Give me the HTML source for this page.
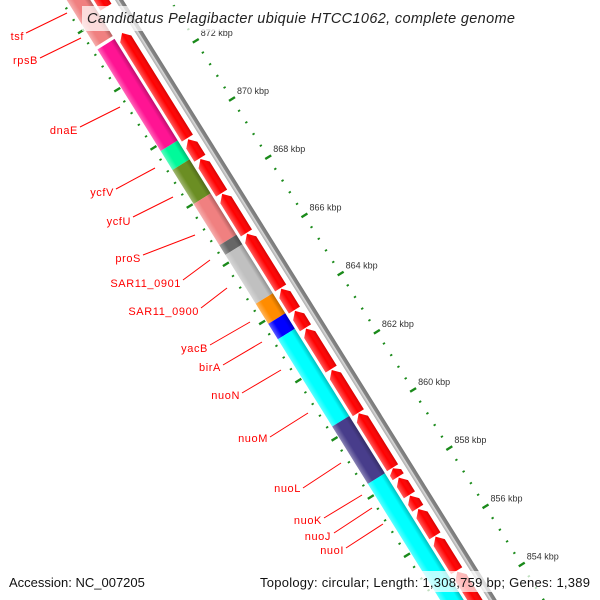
<!DOCTYPE html>
<html><head><meta charset="utf-8"><style>
html,body{margin:0;padding:0;background:#fff;overflow:hidden;}
svg{display:block;font-family:"Liberation Sans","DejaVu Sans",sans-serif;}
</style></head><body>
<svg id="map" width="600" height="600" viewBox="0 0 600 600" xmlns="http://www.w3.org/2000/svg">
<defs>
<linearGradient id="shadeBand" gradientUnits="userSpaceOnUse" x1="0" y1="68" x2="0" y2="88">
<stop offset="0" stop-color="#000" stop-opacity="0.25"/><stop offset="0.25" stop-color="#000" stop-opacity="0"/><stop offset="0.7" stop-color="#fff" stop-opacity="0"/><stop offset="1" stop-color="#fff" stop-opacity="0.35"/>
</linearGradient>
<linearGradient id="shadeArrow" gradientUnits="userSpaceOnUse" x1="0" y1="52" x2="0" y2="65">
<stop offset="0" stop-color="#000" stop-opacity="0.15"/><stop offset="0.5" stop-color="#fff" stop-opacity="0"/><stop offset="1" stop-color="#fff" stop-opacity="0.35"/>
</linearGradient>
<linearGradient id="shadeGray" gradientUnits="userSpaceOnUse" x1="0" y1="40" x2="0" y2="47">
<stop offset="0" stop-color="#777"/><stop offset="0.5" stop-color="#888"/><stop offset="0.6" stop-color="#ddd"/><stop offset="1" stop-color="#aaa"/>
</linearGradient>
</defs>
<g id="track" transform="translate(232,99) rotate(58.1)"></g>
<g id="ticklabels" font-size="9" fill="#333"></g>
<g font-size="11" fill="#f00" stroke-width="1" letter-spacing="0.6">
<g><line x1="26" y1="33" x2="67" y2="13" stroke="#f00"/><text x="24" y="40" text-anchor="end">tsf</text></g>
<g><line x1="40" y1="58" x2="81" y2="38" stroke="#f00"/><text x="38" y="64" text-anchor="end">rpsB</text></g>
<g><line x1="80" y1="127" x2="120" y2="107" stroke="#f00"/><text x="78" y="134" text-anchor="end">dnaE</text></g>
<g><line x1="116" y1="189" x2="155" y2="168" stroke="#f00"/><text x="114" y="196" text-anchor="end">ycfV</text></g>
<g><line x1="133" y1="217" x2="173" y2="197" stroke="#f00"/><text x="131" y="225" text-anchor="end">ycfU</text></g>
<g><line x1="143" y1="255" x2="195" y2="235" stroke="#f00"/><text x="141" y="262" text-anchor="end">proS</text></g>
<g><line x1="183" y1="280" x2="210" y2="260" stroke="#f00"/><text x="181" y="287" text-anchor="end">SAR11_0901</text></g>
<g><line x1="201" y1="308" x2="227" y2="288" stroke="#f00"/><text x="199" y="315" text-anchor="end">SAR11_0900</text></g>
<g><line x1="210" y1="345" x2="250" y2="322" stroke="#f00"/><text x="208" y="352" text-anchor="end">yacB</text></g>
<g><line x1="223" y1="365" x2="262" y2="342" stroke="#f00"/><text x="221" y="371" text-anchor="end">birA</text></g>
<g><line x1="242" y1="393" x2="281" y2="370" stroke="#f00"/><text x="240" y="399" text-anchor="end">nuoN</text></g>
<g><line x1="270" y1="437" x2="308" y2="413" stroke="#f00"/><text x="268" y="442" text-anchor="end">nuoM</text></g>
<g><line x1="303" y1="488" x2="341" y2="463" stroke="#f00"/><text x="301" y="492" text-anchor="end">nuoL</text></g>
<g><line x1="324" y1="518" x2="362" y2="495" stroke="#f00"/><text x="322" y="524" text-anchor="end">nuoK</text></g>
<g><line x1="334" y1="533" x2="372" y2="508" stroke="#f00"/><text x="331" y="540" text-anchor="end">nuoJ</text></g>
<g><line x1="346" y1="548" x2="383" y2="524" stroke="#f00"/><text x="344" y="554" text-anchor="end">nuoI</text></g>
</g>
<rect x="82" y="6" width="436" height="25" fill="#fff" opacity="0.72"/>
<text x="87" y="23" textLength="428" lengthAdjust="spacing" font-size="14.5" font-style="italic" fill="#222">Candidatus Pelagibacter ubiquie HTCC1062, complete genome</text>
<rect x="0" y="571" width="600" height="21" fill="#fff" opacity="0.72"/>
<text x="9" y="587" font-size="13" fill="#111">Accession: NC_007205</text>
<text x="260" y="587" textLength="330" lengthAdjust="spacing" font-size="13" fill="#111">Topology: circular; Length: 1,308,759 bp; Genes: 1,389</text>
</svg>
<script>
// data (kbp)
const bandStarts = [873.4, 869.81, 869.16, 867.99, 866.57, 866.24, 864.56, 863.87, 863.34, 860.34, 858.37, 850];
const bandEnds   = [877, 873.3, 869.81, 869.16, 867.99, 866.57, 866.24, 864.56, 863.87, 863.34, 860.34, 858.37];
const bandColors = ["#f08080","#ff1493","#00fa9a","#6b8e23","#f08080","#666666","#c0c0c0","#ff8c00","#0000ff","#00ffff","#483d8b","#00ffff"];
const geneStarts = [874.22, 869.72, 869.03, 867.83, 866.46, 864.57, 863.81, 863.2, 861.78, 860.28, 858.39, 858.08, 857.46, 857.0, 856.05, 854.85, 851];
const geneEnds   = [877, 873.33, 869.68, 869.0, 867.8, 866.43, 864.54, 863.78, 863.17, 861.75, 860.26, 858.37, 858.05, 857.43, 856.97, 856.02, 854.82];
const tickMin = 850, tickMax = 878;

const NS = "http://www.w3.org/2000/svg";
const PX = 34.27, ORIGIN = 870, ANG = 58.1 * Math.PI / 180;
function u(k){ return (ORIGIN - k) * PX; }
function sx(uu, vv){ return 232 + Math.cos(ANG) * uu - Math.sin(ANG) * vv; }
function sy(uu, vv){ return 99 + Math.sin(ANG) * uu + Math.cos(ANG) * vv; }
const track = document.getElementById('track');
const tl = document.getElementById('ticklabels');
function mk(tag, attrs, parent){ const e = document.createElementNS(NS, tag); for (const k in attrs) e.setAttribute(k, attrs[k]); parent.appendChild(e); return e; }

// backbone
const bb = mk('rect', {x: u(tickMax), y: 40, width: u(tickMin) - u(tickMax), height: 7, fill: 'url(#shadeGray)'}, track);



// colored band
for (let i = 0; i < bandStarts.length; i++) {
  const r = mk('rect', {x: u(bandEnds[i]), y: 68, width: u(bandStarts[i]) - u(bandEnds[i]), height: 20, fill: bandColors[i]}, track);
  
  
  mk('rect', {x: u(bandEnds[i]), y: 68, width: u(bandStarts[i]) - u(bandEnds[i]), height: 20, fill: 'url(#shadeBand)'}, track);
}

// forward gene arrows
for (let i = 0; i < geneStarts.length; i++) {
  const t = u(geneEnds[i]), f = u(geneStarts[i]);
  const h = Math.min(7, (f - t) * 0.5);
  const d = `M${t},58.5 L${t + h},52 L${f},52 L${f},65 L${t + h},65 Z`;
  const p = mk('path', {d: d, fill: '#ff0000'}, track);
  
  
  mk('path', {d: d, fill: 'url(#shadeArrow)'}, track);
}

// ticks
for (let k = Math.ceil(tickMin / 0.4); k <= Math.floor(tickMax / 0.4); k++) {
  const kb = k * 0.4;
  const major = (k % 5 === 0);
  const uu = u(kb);
  const o = mk('rect', major ? {x: uu - 1.2, y: -3.5, width: 2.4, height: 7, fill: '#1a8a1a'} : {x: uu - 0.9, y: -1, width: 1.8, height: 2.4, fill: '#1a8a1a'}, track);
  
  
  const n = mk('rect', major ? {x: uu - 1.2, y: 89, width: 2.4, height: 7, fill: '#1a8a1a'} : {x: uu - 0.9, y: 91.5, width: 1.8, height: 2.4, fill: '#1a8a1a'}, track);
  
  
  if (major) {
    const lab = mk('text', {x: sx(uu, 0) + 5, y: sy(uu, 0) - 5}, tl);
    lab.textContent = Math.round(kb) + ' kbp';
    
    
  }
}
</script>
</body></html>
